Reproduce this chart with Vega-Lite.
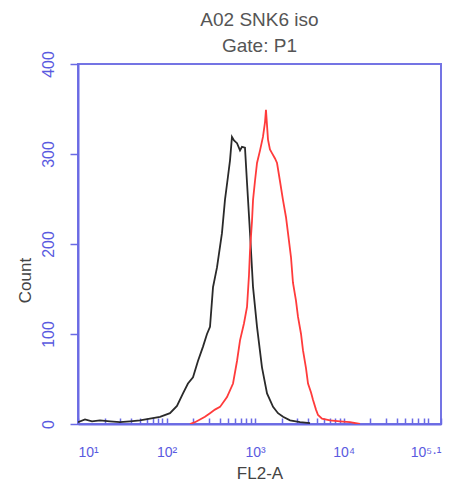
{
  "$schema": "https://vega.github.io/schema/vega-lite/v6.json",
  "width": 363,
  "height": 360,
  "autosize": {"type": "none"},
  "padding": {"left": 78, "top": 64, "right": 15, "bottom": 64},
  "background": "white",
  "config": {
    "font": "Liberation Sans",
    "view": {"stroke": "#7474e4", "strokeWidth": 2}
  },
  "title": {
    "text": ["A02 SNK6 iso", "Gate: P1"],
    "fontSize": 19,
    "fontWeight": "normal",
    "color": "#555555",
    "lineHeight": 26,
    "offset": -5,
    "anchor": "middle"
  },
  "data": {
    "values": [
      {"series": "iso", "log10_FL2A": 1.000, "count": 2},
      {"series": "iso", "log10_FL2A": 1.079, "count": 5},
      {"series": "iso", "log10_FL2A": 1.158, "count": 3},
      {"series": "iso", "log10_FL2A": 1.248, "count": 4},
      {"series": "iso", "log10_FL2A": 1.361, "count": 3},
      {"series": "iso", "log10_FL2A": 1.474, "count": 2},
      {"series": "iso", "log10_FL2A": 1.587, "count": 3},
      {"series": "iso", "log10_FL2A": 1.700, "count": 4},
      {"series": "iso", "log10_FL2A": 1.813, "count": 6},
      {"series": "iso", "log10_FL2A": 1.926, "count": 8},
      {"series": "iso", "log10_FL2A": 2.039, "count": 12},
      {"series": "iso", "log10_FL2A": 2.118, "count": 20},
      {"series": "iso", "log10_FL2A": 2.186, "count": 34},
      {"series": "iso", "log10_FL2A": 2.242, "count": 45},
      {"series": "iso", "log10_FL2A": 2.299, "count": 52},
      {"series": "iso", "log10_FL2A": 2.355, "count": 70},
      {"series": "iso", "log10_FL2A": 2.412, "count": 86},
      {"series": "iso", "log10_FL2A": 2.457, "count": 100},
      {"series": "iso", "log10_FL2A": 2.491, "count": 108},
      {"series": "iso", "log10_FL2A": 2.525, "count": 152},
      {"series": "iso", "log10_FL2A": 2.570, "count": 174},
      {"series": "iso", "log10_FL2A": 2.626, "count": 212},
      {"series": "iso", "log10_FL2A": 2.660, "count": 249},
      {"series": "iso", "log10_FL2A": 2.694, "count": 275},
      {"series": "iso", "log10_FL2A": 2.717, "count": 293},
      {"series": "iso", "log10_FL2A": 2.739, "count": 319},
      {"series": "iso", "log10_FL2A": 2.762, "count": 315},
      {"series": "iso", "log10_FL2A": 2.796, "count": 312},
      {"series": "iso", "log10_FL2A": 2.830, "count": 304},
      {"series": "iso", "log10_FL2A": 2.852, "count": 308},
      {"series": "iso", "log10_FL2A": 2.886, "count": 307},
      {"series": "iso", "log10_FL2A": 2.909, "count": 268},
      {"series": "iso", "log10_FL2A": 2.943, "count": 212},
      {"series": "iso", "log10_FL2A": 2.977, "count": 152},
      {"series": "iso", "log10_FL2A": 3.022, "count": 108},
      {"series": "iso", "log10_FL2A": 3.078, "count": 63},
      {"series": "iso", "log10_FL2A": 3.135, "count": 34},
      {"series": "iso", "log10_FL2A": 3.203, "count": 19},
      {"series": "iso", "log10_FL2A": 3.259, "count": 12},
      {"series": "iso", "log10_FL2A": 3.316, "count": 8},
      {"series": "iso", "log10_FL2A": 3.395, "count": 4},
      {"series": "iso", "log10_FL2A": 3.508, "count": 2},
      {"series": "iso", "log10_FL2A": 3.621, "count": 1},
      {"series": "stained", "log10_FL2A": 2.265, "count": 0},
      {"series": "stained", "log10_FL2A": 2.321, "count": 2},
      {"series": "stained", "log10_FL2A": 2.378, "count": 5},
      {"series": "stained", "log10_FL2A": 2.434, "count": 8},
      {"series": "stained", "log10_FL2A": 2.491, "count": 12},
      {"series": "stained", "log10_FL2A": 2.547, "count": 16},
      {"series": "stained", "log10_FL2A": 2.604, "count": 19},
      {"series": "stained", "log10_FL2A": 2.683, "count": 30},
      {"series": "stained", "log10_FL2A": 2.751, "count": 45},
      {"series": "stained", "log10_FL2A": 2.796, "count": 70},
      {"series": "stained", "log10_FL2A": 2.830, "count": 93},
      {"series": "stained", "log10_FL2A": 2.875, "count": 112},
      {"series": "stained", "log10_FL2A": 2.909, "count": 130},
      {"series": "stained", "log10_FL2A": 2.931, "count": 165},
      {"series": "stained", "log10_FL2A": 2.943, "count": 193},
      {"series": "stained", "log10_FL2A": 2.965, "count": 225},
      {"series": "stained", "log10_FL2A": 2.977, "count": 249},
      {"series": "stained", "log10_FL2A": 2.999, "count": 270},
      {"series": "stained", "log10_FL2A": 3.022, "count": 290},
      {"series": "stained", "log10_FL2A": 3.056, "count": 304},
      {"series": "stained", "log10_FL2A": 3.089, "count": 319},
      {"series": "stained", "log10_FL2A": 3.112, "count": 335},
      {"series": "stained", "log10_FL2A": 3.123, "count": 349},
      {"series": "stained", "log10_FL2A": 3.146, "count": 316},
      {"series": "stained", "log10_FL2A": 3.168, "count": 305},
      {"series": "stained", "log10_FL2A": 3.191, "count": 301},
      {"series": "stained", "log10_FL2A": 3.225, "count": 295},
      {"series": "stained", "log10_FL2A": 3.248, "count": 290},
      {"series": "stained", "log10_FL2A": 3.281, "count": 270},
      {"series": "stained", "log10_FL2A": 3.315, "count": 249},
      {"series": "stained", "log10_FL2A": 3.349, "count": 230},
      {"series": "stained", "log10_FL2A": 3.372, "count": 212},
      {"series": "stained", "log10_FL2A": 3.406, "count": 185},
      {"series": "stained", "log10_FL2A": 3.428, "count": 157},
      {"series": "stained", "log10_FL2A": 3.462, "count": 137},
      {"series": "stained", "log10_FL2A": 3.485, "count": 119},
      {"series": "stained", "log10_FL2A": 3.519, "count": 100},
      {"series": "stained", "log10_FL2A": 3.541, "count": 82},
      {"series": "stained", "log10_FL2A": 3.575, "count": 62},
      {"series": "stained", "log10_FL2A": 3.598, "count": 45},
      {"series": "stained", "log10_FL2A": 3.632, "count": 35},
      {"series": "stained", "log10_FL2A": 3.654, "count": 27},
      {"series": "stained", "log10_FL2A": 3.688, "count": 16},
      {"series": "stained", "log10_FL2A": 3.711, "count": 10},
      {"series": "stained", "log10_FL2A": 3.756, "count": 6},
      {"series": "stained", "log10_FL2A": 3.846, "count": 4},
      {"series": "stained", "log10_FL2A": 3.959, "count": 3},
      {"series": "stained", "log10_FL2A": 4.072, "count": 2},
      {"series": "stained", "log10_FL2A": 4.185, "count": 0}
    ]
  },
  "mark": {"type": "line", "strokeWidth": 1.8, "clip": true},
  "encoding": {
    "x": {
      "field": "log10_FL2A",
      "type": "quantitative",
      "scale": {"domain": [1, 5.1], "nice": false, "zero": false},
      "axis": {
        "title": "FL2-A",
        "titleFontSize": 17,
        "titleFontWeight": "normal",
        "titleColor": "#444444",
        "titlePadding": 6,
        "values": [1, 1.301, 1.477, 1.602, 1.699, 1.778, 1.845, 1.903, 1.954, 2, 2.301, 2.477, 2.602, 2.699, 2.778, 2.845, 2.903, 2.954, 3, 3.301, 3.477, 3.602, 3.699, 3.778, 3.845, 3.903, 3.954, 4, 4.301, 4.477, 4.602, 4.699, 4.778, 4.845, 4.903, 4.954, 5.1],
        "labelExpr": "datum.value == 1 ? '10¹' : datum.value == 2 ? '10²' : datum.value == 3 ? '10³' : datum.value == 4 ? '10⁴' : datum.value == 5.1 ? '10⁵·¹' : ''",
        "labelOverlap": false,
        "labelFontSize": 14,
        "labelColor": "#5a5ae0",
        "labelPadding": 27,
        "tickSize": -6,
        "tickColor": "#6a6ae4",
        "tickWidth": 1.5,
        "domainColor": "#6a6ae4",
        "domainWidth": 2,
        "grid": false
      }
    },
    "y": {
      "field": "count",
      "type": "quantitative",
      "scale": {"domain": [0, 400], "nice": false},
      "axis": {
        "title": "Count",
        "titleFontSize": 17,
        "titleFontWeight": "normal",
        "titleColor": "#444444",
        "titleX": -44,
        "titleY": 216,
        "values": [0, 100, 200, 300, 400],
        "labelAngle": -90,
        "labelFontSize": 16,
        "labelColor": "#5a5ae0",
        "labelPadding": 14,
        "tickSize": 8,
        "tickColor": "#6a6ae4",
        "tickWidth": 1.5,
        "domainColor": "#6a6ae4",
        "domainWidth": 2,
        "grid": false
      }
    },
    "color": {
      "field": "series",
      "type": "nominal",
      "scale": {"domain": ["iso", "stained"], "range": ["#2a2a2a", "#ff3b3b"]},
      "legend": null
    }
  }
}
